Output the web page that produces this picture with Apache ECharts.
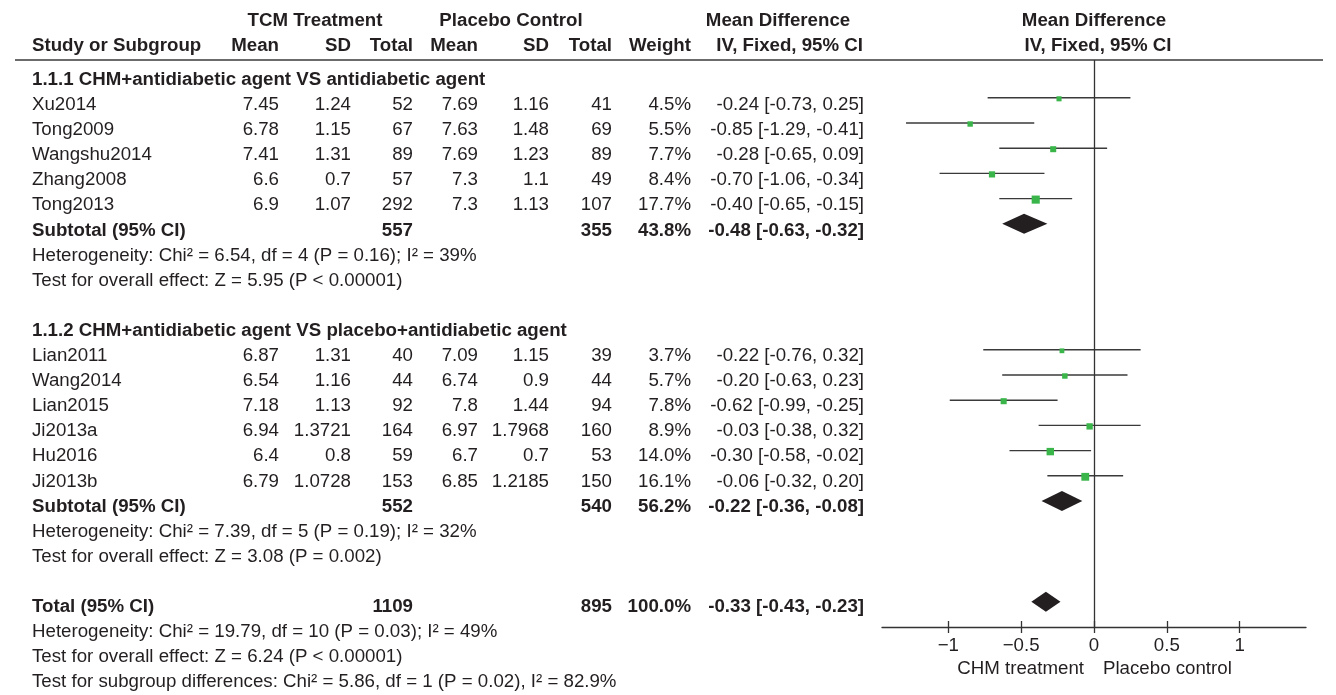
<!DOCTYPE html>
<html>
<head>
<meta charset="utf-8">
<script src="https://cdn.jsdelivr.net/npm/echarts@6.0.0/dist/echarts.min.js"></script>
<style>
  html, body { margin: 0; padding: 0; background: #fff; }
  #forest { width: 1336px; height: 695px; }
</style>
</head>
<body>
<div id="forest"></div>
<script>
// study rows
var studies = ['Xu2014', 'Tong2009', 'Wangshu2014', 'Zhang2008', 'Tong2013',
  'Lian2011', 'Wang2014', 'Lian2015', 'Ji2013a', 'Hu2016', 'Ji2013b'];
var studyRow = [0, 1, 2, 3, 4, 10, 11, 12, 13, 14, 15];
var tcmMean = ['7.45', '6.78', '7.41', '6.6', '6.9', '6.87', '6.54', '7.18', '6.94', '6.4', '6.79'];
var tcmSD = ['1.24', '1.15', '1.31', '0.7', '1.07', '1.31', '1.16', '1.13', '1.3721', '0.8', '1.0728'];
var tcmTotal = [52, 67, 89, 57, 292, 40, 44, 92, 164, 59, 153];
var pcMean = ['7.69', '7.63', '7.69', '7.3', '7.3', '7.09', '6.74', '7.8', '6.97', '6.7', '6.85'];
var pcSD = ['1.16', '1.48', '1.23', '1.1', '1.13', '1.15', '0.9', '1.44', '1.7968', '0.7', '1.2185'];
var pcTotal = [41, 69, 89, 49, 107, 39, 44, 94, 160, 53, 150];
var weight = [4.5, 5.5, 7.7, 8.4, 17.7, 3.7, 5.7, 7.8, 8.9, 14.0, 16.1];
var md = [-0.24, -0.85, -0.28, -0.70, -0.40, -0.22, -0.20, -0.62, -0.03, -0.30, -0.06];
var ciLo = [-0.73, -1.29, -0.65, -1.06, -0.65, -0.76, -0.63, -0.99, -0.38, -0.58, -0.32];
var ciHi = [0.25, -0.41, 0.09, -0.34, -0.15, 0.32, 0.23, -0.25, 0.32, -0.02, 0.20];

// subtotal / total rows
var poolName = ['Subtotal (95% CI)', 'Subtotal (95% CI)', 'Total (95% CI)'];
var poolRow = [5, 16, 20];
var poolTcm = [557, 552, 1109];
var poolPc = [355, 540, 895];
var poolWeight = [43.8, 56.2, 100.0];
var poolMd = [-0.48, -0.22, -0.33];
var poolLo = [-0.63, -0.36, -0.43];
var poolHi = [-0.32, -0.08, -0.23];

// headings and notes
var groupTitles = ['1.1.1 CHM+antidiabetic agent VS antidiabetic agent',
  '1.1.2 CHM+antidiabetic agent VS placebo+antidiabetic agent'];
var groupRow = [-1, 9];
var notes = [
  'Heterogeneity: Chi\u00b2 = 6.54, df = 4 (P = 0.16); I\u00b2 = 39%',
  'Test for overall effect: Z = 5.95 (P < 0.00001)',
  'Heterogeneity: Chi\u00b2 = 7.39, df = 5 (P = 0.19); I\u00b2 = 32%',
  'Test for overall effect: Z = 3.08 (P = 0.002)',
  'Heterogeneity: Chi\u00b2 = 19.79, df = 10 (P = 0.03); I\u00b2 = 49%',
  'Test for overall effect: Z = 6.24 (P < 0.00001)',
  'Test for subgroup differences: Chi\u00b2 = 5.86, df = 1 (P = 0.02), I\u00b2 = 82.9%'
];
var noteRow = [6, 7, 17, 18, 21, 22, 23];
var xTicks = [-1, -0.5, 0, 0.5, 1];

var FS = 18.7;
var FAM = '"Liberation Sans", Arial, sans-serif';
var INK = '#231f20';
var regular = FS + 'px ' + FAM;
var bold = 'bold ' + FS + 'px ' + FAM;

// table columns: right edges (name column is left aligned)
var colRight = [279, 351, 413, 478, 549, 612, 691, 864];
var nameLeft = 32;

function fmtCI(m, l, h) {
  return m.toFixed(2) + ' [' + l.toFixed(2) + ', ' + h.toFixed(2) + ']';
}

// cells: [row, col (-1 = name), text, isBold]
var cells = [];
groupTitles.forEach(function (t, i) { cells.push([groupRow[i], -1, t, true]); });
studies.forEach(function (s, i) {
  var r = studyRow[i];
  cells.push([r, -1, s, false]);
  cells.push([r, 0, tcmMean[i], false]);
  cells.push([r, 1, tcmSD[i], false]);
  cells.push([r, 2, String(tcmTotal[i]), false]);
  cells.push([r, 3, pcMean[i], false]);
  cells.push([r, 4, pcSD[i], false]);
  cells.push([r, 5, String(pcTotal[i]), false]);
  cells.push([r, 6, weight[i].toFixed(1) + '%', false]);
  cells.push([r, 7, fmtCI(md[i], ciLo[i], ciHi[i]), false]);
});
poolName.forEach(function (s, i) {
  var r = poolRow[i];
  cells.push([r, -1, s, true]);
  cells.push([r, 2, String(poolTcm[i]), true]);
  cells.push([r, 5, String(poolPc[i]), true]);
  cells.push([r, 6, poolWeight[i].toFixed(1) + '%', true]);
  cells.push([r, 7, fmtCI(poolMd[i], poolLo[i], poolHi[i]), true]);
});
notes.forEach(function (t, i) { cells.push([noteRow[i], -1, t, false]); });

var studyData = studies.map(function (s, i) {
  return [md[i], studyRow[i], ciLo[i], ciHi[i], weight[i]];
});
var poolData = poolName.map(function (s, i) {
  return [poolMd[i], poolRow[i], poolLo[i], poolHi[i]];
});

function headerText(text, x, y, align, isBold) {
  return {
    type: 'text', x: x, y: y, silent: true,
    style: { text: text, font: isBold ? bold : regular, fill: INK, align: align, verticalAlign: 'middle' }
  };
}

var chart = echarts.init(document.getElementById('forest'));
chart.setOption({
  animation: false,
  grid: [
    { left: 882, width: 424, top: 60, height: 567 },   // forest plot
    { left: 0, right: 0, top: 29.7, height: 652.4 }    // table text
  ],
  xAxis: [
    {
      gridIndex: 0, type: 'value', min: -1.455, max: 1.455, position: 'bottom',
      splitLine: { show: false },
      axisLine: { show: true, onZero: false, lineStyle: { color: '#333', width: 1.3 } },
      axisTick: { show: true, customValues: xTicks, length: 6, lineStyle: { color: '#333', width: 1.3 } },
      axisLabel: {
        customValues: xTicks, margin: 9, color: INK, fontSize: FS, fontFamily: FAM,
        formatter: function (v) { return String(v).replace('-', '\u2212'); }
      }
    },
    {
      gridIndex: 0, type: 'value', min: -1.455, max: 1.455, position: 'bottom',
      splitLine: { show: false },
      axisLine: { show: false, onZero: false },
      axisTick: { show: true, inside: true, customValues: xTicks, length: 6, lineStyle: { color: '#333', width: 1.3 } },
      axisLabel: { show: false }
    },
    { gridIndex: 1, type: 'value', min: 0, max: 1, show: false }
  ],
  yAxis: [
    { gridIndex: 0, type: 'value', inverse: true, min: -1.5, max: 21, show: false },
    { gridIndex: 1, type: 'value', inverse: true, min: -3, max: 23, show: false }
  ],
  graphic: [
    { type: 'line', silent: true, shape: { x1: 15, y1: 60, x2: 1323, y2: 60 },
      style: { stroke: '#3a3a3a', lineWidth: 1.6 } },
    headerText('TCM Treatment', 315, 20.7, 'center', true),
    headerText('Placebo Control', 511, 20.7, 'center', true),
    headerText('Mean Difference', 778, 20.7, 'center', true),
    headerText('Mean Difference', 1094, 20.7, 'center', true),
    headerText('Study or Subgroup', nameLeft, 46, 'left', true),
    headerText('Mean', colRight[0], 46, 'right', true),
    headerText('SD', colRight[1], 46, 'right', true),
    headerText('Total', colRight[2], 46, 'right', true),
    headerText('Mean', colRight[3], 46, 'right', true),
    headerText('SD', colRight[4], 46, 'right', true),
    headerText('Total', colRight[5], 46, 'right', true),
    headerText('Weight', colRight[6], 46, 'right', true),
    headerText('IV, Fixed, 95% CI', 863, 46, 'right', true),
    headerText('IV, Fixed, 95% CI', 1098, 46, 'center', true),
    headerText('CHM treatment', 1084, 669, 'right', false),
    headerText('Placebo control', 1103, 669, 'left', false)
  ],
  series: [
    {
      name: 'zero', type: 'line', xAxisIndex: 0, yAxisIndex: 0, data: [],
      markLine: {
        silent: true, symbol: 'none', label: { show: false },
        lineStyle: { color: '#333', width: 1.3, type: 'solid' },
        data: [{ xAxis: 0 }]
      }
    },
    {
      name: 'studies', type: 'custom', xAxisIndex: 0, yAxisIndex: 0,
      data: studyData,
      renderItem: function (params, api) {
        var c = api.coord([api.value(0), api.value(1)]);
        var xLo = api.coord([api.value(2), api.value(1)])[0];
        var xHi = api.coord([api.value(3), api.value(1)])[0];
        // square side grows with study weight
        var s = 2 + 1.45 * Math.sqrt(api.value(4));
        return {
          type: 'group',
          children: [
            { type: 'line', shape: { x1: xLo, y1: c[1], x2: xHi, y2: c[1] },
              style: { stroke: '#3a3a3a', lineWidth: 1.4 } },
            { type: 'rect', shape: { x: c[0] - s / 2, y: c[1] - s / 2 + 1, width: s, height: s },
              style: { fill: '#39b54a' } }
          ]
        };
      }
    },
    {
      name: 'pooled', type: 'custom', xAxisIndex: 0, yAxisIndex: 0,
      data: poolData,
      renderItem: function (params, api) {
        var c = api.coord([api.value(0), api.value(1)]);
        var xLo = api.coord([api.value(2), api.value(1)])[0];
        var xHi = api.coord([api.value(3), api.value(1)])[0];
        return {
          type: 'polygon',
          shape: { points: [[xLo, c[1]], [c[0], c[1] - 10], [xHi, c[1]], [c[0], c[1] + 10]] },
          style: { fill: '#231f20' }
        };
      }
    },
    {
      name: 'table', type: 'custom', xAxisIndex: 2, yAxisIndex: 1,
      data: cells.map(function (c) { return [0, c[0]]; }),
      renderItem: function (params, api) {
        var cell = cells[params.dataIndex];
        var y = api.coord([0, api.value(1)])[1];
        var isName = cell[1] < 0;
        return {
          type: 'text',
          x: isName ? nameLeft : colRight[cell[1]],
          y: y,
          style: {
            text: cell[2], font: cell[3] ? bold : regular, fill: INK,
            align: isName ? 'left' : 'right', verticalAlign: 'middle'
          }
        };
      }
    }
  ]
});
</script>
</body>
</html>
